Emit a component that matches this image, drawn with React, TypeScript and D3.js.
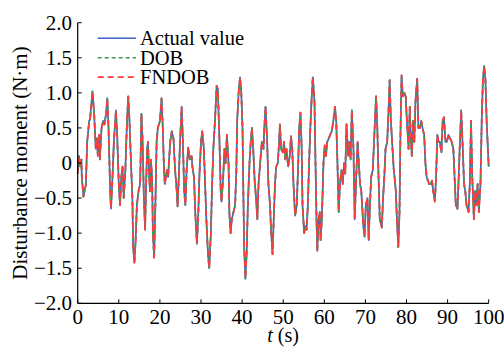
import React from "react";
import * as d3 from "d3";

const times: number[] = [
  0.0, 0.3, 0.6, 0.9, 1.0, 1.4, 2.0, 2.3, 2.8, 3.0, 3.6, 4.0, 4.4, 4.7, 4.9, 5.2, 5.4, 5.8, 6.2, 6.5,
  6.9, 7.2, 7.5, 7.9, 8.1, 8.4, 8.8, 9.3, 9.6, 10.0, 10.3, 10.6, 10.9, 11.2, 11.6, 12.0, 12.3, 12.6, 12.97, 13.3,
  13.5, 13.8, 14.1, 14.4, 14.8, 15.2, 15.5, 15.8, 16.1, 16.4, 16.6, 16.9, 17.1, 17.4, 17.6, 17.8, 18.1, 18.3, 18.6, 18.9,
  19.2, 19.5, 20.0, 20.4, 20.7, 21.0, 21.2, 21.7, 22.0, 22.5, 22.9, 23.3, 23.7, 24.1, 24.3, 24.6, 24.9, 25.3, 25.6, 25.9,
  26.2, 26.5, 26.9, 27.3, 27.7, 27.9, 28.3, 28.6, 29.0, 29.3, 29.6, 30.0, 30.3, 30.7, 31.0, 31.3, 31.7, 32.0, 32.4, 32.7,
  33.0, 33.4, 33.8, 34.1, 34.5, 34.8, 35.0, 35.4, 35.7, 36.0, 36.3, 36.7, 36.9, 37.2, 37.5, 37.9, 38.3, 38.6, 38.8, 39.2,
  39.5, 39.8, 40.1, 40.3, 40.5, 40.8, 41.1, 41.4, 41.8, 42.1, 42.4, 42.7, 43.1, 43.4, 43.7, 44.0, 44.4, 44.8, 45.2, 45.4,
  45.7, 46.1, 46.4, 46.8, 47.0, 47.4, 47.7, 48.0, 48.3, 48.7, 49.0, 49.2, 49.5, 49.9, 50.2, 50.5, 50.8, 51.2, 51.6, 51.9,
  52.2, 52.5, 52.9, 53.3, 53.6, 53.9, 54.2, 54.5, 54.7, 55.1, 55.4, 55.7, 56.0, 56.3, 56.6, 56.9, 57.2, 57.6, 57.8, 58.1,
  58.3, 58.6, 58.9, 59.1, 59.4, 59.8, 60.1, 60.4, 60.7, 61.1, 61.4, 61.8, 62.2, 62.6, 62.9, 63.2, 63.5, 63.8, 64.2, 64.5,
  64.8, 65.1, 65.4, 65.8, 66.1, 66.4, 66.7, 67.1, 67.4, 67.7, 68.1, 68.4, 68.7, 69.0, 69.5, 69.8, 70.1, 70.5, 70.8, 71.1,
  71.4, 71.8, 72.1, 72.6, 72.9, 73.2, 73.5, 74.0, 74.3, 74.6, 74.9, 75.3, 75.6, 75.9, 76.2, 76.6, 76.9, 77.1, 77.4, 77.6,
  78.0, 78.3, 78.5, 78.8, 79.1, 79.5, 79.8, 80.1, 80.5, 80.8, 81.0, 81.3, 81.6, 81.9, 82.2, 82.6, 82.9, 83.3, 83.6, 83.9,
  84.3, 84.6, 84.9, 85.2, 85.5, 85.9, 86.2, 86.5, 86.9, 87.2, 87.5, 87.8, 88.1, 88.5, 88.8, 89.1, 89.5, 89.8, 90.2, 90.6,
  91.0, 91.4, 91.7, 92.0, 92.4, 92.7, 93.0, 93.3, 93.7, 94.0, 94.3, 94.6, 95.1, 95.4, 95.7, 96.0, 96.4, 96.7, 97.0, 97.3,
  97.6, 98.0, 98.3, 98.6, 98.9, 99.2, 99.5, 99.8, 100.0,
];

const actualValues: number[] = [
  -0.15, 0.1, -0.05, 0.05, -0.2, -0.48, -0.3, 0.3, 0.6, 0.62, 1.02, 0.7, 0.2, 0.35, 0.1, 0.4, 0.05, 0.5, 0.6, 0.55,
  0.7, 0.92, 0.5, -0.4, -0.65, -0.3, 0.3, 0.75, 0.4, -0.3, -0.6, -0.2, -0.05, -0.5, -0.1, 0.6, 0.95, 0.6, 0.0, -0.5,
  -1.2, -1.42, -1.1, -0.6, -0.4, -0.3, 0.7, 0.3, -0.5, -0.95, -0.4, 0.2, 0.3, -0.2, -0.4, 0.05, -0.2, -1.0, -1.35, -0.6,
  0.3, 0.5, 0.6, 0.92, 0.5, -0.1, -0.3, -0.1, -0.2, 0.3, 0.45, 0.35, -0.1, -0.4, -0.62, -0.2, 0.3, 0.8, 0.3, -0.4,
  -0.6, -0.1, 0.22, 0.05, 0.1, -0.05, -0.2, -0.7, -1.15, -0.8, -0.2, 0.3, 0.45, 0.2, -0.3, -0.8, -1.3, -1.5, -1.0, -0.3,
  0.2, 0.6, 1.1, 1.05, 0.3, -0.4, -0.55, -0.2, 0.2, 0.0, 0.4, 0.0, -0.7, -1.0, -0.8, -0.7, -0.6, -0.1, 0.6, 1.05,
  1.22, 1.0, 0.5, -0.4, -1.2, -1.65, -1.3, -0.6, 0.0, 0.3, 0.5, 0.2, -0.3, -0.5, -0.8, -0.3, 0.0, 0.3, 0.2, 0.5,
  0.8, 0.3, -0.3, -0.6, -0.9, -1.3, -0.8, -0.3, -0.05, 0.0, 0.3, 0.55, 0.2, 0.15, 0.3, 0.05, 0.2, -0.05, 0.1, 0.38,
  0.2, -0.3, -0.75, -0.6, -0.1, 0.5, 0.72, 0.2, -0.6, -1.0, -0.9, -0.95, -0.6, 0.0, 0.5, 0.9, 1.22, 0.9, 0.2, -0.8,
  -1.25, -0.8, -0.7, -1.1, -0.8, 0.0, 0.25, 0.1, 0.3, 0.35, 0.4, 0.45, 0.6, 0.8, 0.6, 0.0, -0.7, -0.3, -0.1, -0.3,
  0.0, -0.15, 0.55, 0.1, 0.3, 0.05, 0.75, 0.2, -0.8, -0.3, 0.3, 0.0, -0.3, -0.4, -0.9, -1.05, -0.6, -0.5, -1.1, -0.6,
  -0.2, -0.1, 0.3, 0.95, 0.5, -0.2, -0.8, -0.92, -0.5, -0.2, 0.2, 0.3, 0.7, 1.18, 0.6, 0.2, -0.1, -0.2, -0.4, -0.7,
  -1.2, -0.7, 0.3, 1.25, 0.95, 1.0, 0.95, 0.6, 0.2, 0.8, 0.4, 0.1, 0.6, 0.3, 0.9, 1.2, 0.5, 0.5, 0.6, 0.5,
  0.4, 0.0, -0.2, -0.25, -0.3, -0.3, -0.25, -0.4, -0.55, -0.2, 0.4, 0.3, 0.3, 0.15, 0.6, 0.65, 0.3, 0.3, 0.4, 0.35,
  0.3, 0.2, -0.2, -0.6, -0.65, -0.2, 0.3, 0.75, 0.2, -0.3, -0.4, -0.6, -0.7, -0.3, 0.6, -0.2, -0.8, -0.4, -0.6, -0.3,
  -0.7, -0.3, 0.6, 1.2, 1.38, 1.2, 0.6, 0.2, -0.05,
];

// Estimates read off the picture track the actual value almost exactly
const dobValues: number[] = actualValues;
const fndobValues: number[] = actualValues;

const seriesNames: string[] = ["Actual value", "DOB", "FNDOB"];
const seriesColors: string[] = ["#3a66cc", "#3e9a4e", "#ff3a3a"];
const seriesDash: string[] = ["none", "4,3", "6,4"];
const xTicks: number[] = [0, 10, 20, 30, 40, 50, 60, 70, 80, 90, 100];
const yTicks: number[] = [-2.0, -1.5, -1.0, -0.5, 0, 0.5, 1.0, 1.5, 2.0];

const W = 504;
const H = 348;
const FONT = "'Liberation Serif', 'Times New Roman', serif";
const FS = 21;

export default function App() {
  const x = d3.scaleLinear().domain([0, 100]).range([77.7, 488.7]);
  const y = d3.scaleLinear().domain([-2, 2]).range([303.3, 22.7]);
  const allSeries = [actualValues, dobValues, fndobValues];
  const line = d3
    .line<number>()
    .x((_, i) => x(times[i]))
    .y((d) => y(d));

  const fmtY = (v: number) => (v === 0 ? "0" : (v < 0 ? "\u2212" : "") + Math.abs(v).toFixed(1));

  return (
    <svg
      width={W}
      height={H}
      style={{ position: "absolute", left: 0, top: 0, background: "#fff" }}
      fontFamily={FONT}
    >
      <rect x={0} y={0} width={W} height={H} fill="#fff" />
      {allSeries.map((s, k) => (
        <path
          key={k}
          d={line(s) || ""}
          fill="none"
          stroke={seriesColors[k]}
          strokeWidth={1.7}
          strokeDasharray={seriesDash[k]}
          strokeLinejoin="round"
        />
      ))}
      {/* axes */}
      <line x1={x(0)} x2={x(0)} y1={y(2)} y2={y(-2)} stroke="#000" strokeWidth={1.2} />
      <line x1={x(0)} x2={x(100)} y1={y(-2)} y2={y(-2)} stroke="#000" strokeWidth={1.2} />
      {yTicks.map((t) => (
        <g key={"y" + t}>
          <line x1={x(0)} x2={x(0) + 4} y1={y(t)} y2={y(t)} stroke="#000" strokeWidth={1} />
          <text x={72} y={y(t)} dy="0.33em" textAnchor="end" fontSize={FS}>
            {fmtY(t)}
          </text>
        </g>
      ))}
      {xTicks.map((t) => (
        <g key={"x" + t}>
          <line x1={x(t)} x2={x(t)} y1={y(-2)} y2={y(-2) - 4} stroke="#000" strokeWidth={1} />
          <text x={x(t)} y={324} textAnchor="middle" fontSize={FS}>
            {t}
          </text>
        </g>
      ))}
      <text
        transform={`translate(${20},${163}) rotate(-90)`}
        textAnchor="middle"
        dy="0.35em"
        fontSize={FS}
      >
        Disturbance moment (N·m)
      </text>
      <text x={283} y={342} textAnchor="middle" fontSize={20}>
        <tspan fontStyle="italic">t</tspan> (s)
      </text>
      {/* legend */}
      {seriesNames.map((n, k) => {
        const ly = 38.3 + k * 19.4;
        return (
          <g key={n}>
            <line
              x1={97.7}
              x2={136}
              y1={ly}
              y2={ly}
              stroke={seriesColors[k]}
              strokeWidth={1.6}
              strokeDasharray={seriesDash[k]}
            />
            <text x={140} y={ly} dy="0.35em" fontSize={20.5}>
              {n}
            </text>
          </g>
        );
      })}
    </svg>
  );
}
